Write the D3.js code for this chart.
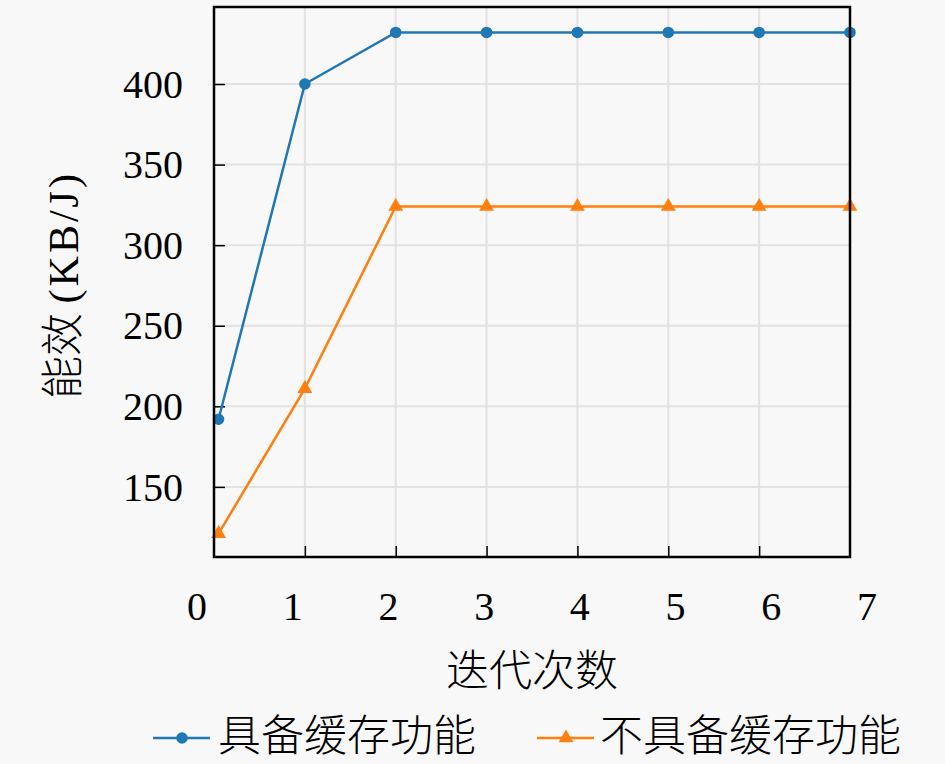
<!DOCTYPE html>
<html>
<head>
<meta charset="utf-8">
<script src="https://cdn.jsdelivr.net/npm/d3@7/dist/d3.min.js"></script>
<style>
  html, body { margin: 0; padding: 0; background: #f8f8f8; }
  svg { display: block; }
  .num { font-family: "Liberation Serif", "DejaVu Serif", serif; }
  .cjk { font-family: "Noto Sans CJK SC", sans-serif; font-weight: 300; }
</style>
</head>
<body>
<svg id="chart" width="945" height="764"></svg>
<script>
// data
var iterations = [0.05, 1, 2, 3, 4, 5, 6, 7];
var withCache = [192, 400, 432, 432, 432, 432, 432, 432];
var withoutCache = [121, 211, 324, 324, 324, 324, 324, 324];
var xTicks = [0, 1, 2, 3, 4, 5, 6, 7];
var yTicks = [150, 200, 250, 300, 350, 400];
var seriesNames = ['具备缓存功能', '不具备缓存功能'];
var colors = ['#1f77b4', '#ff7f0e'];

// layout
var plotLeft = 214, plotRight = 850, plotTop = 7, plotBottom = 557;

var svg = d3.select('#chart');

var x = d3.scaleLinear().domain([0, 7]).range([plotLeft, plotRight]);
var y = d3.scaleLinear().domain([106.5, 447.8]).range([plotBottom, plotTop]);
// tick labels sit slightly wider apart than the grid in the original
var xLabel = d3.scaleLinear().domain([0, 7]).range([x(0) - 17, x(7) + 17]);

function marker(s) {
	return d3.symbol()
		.type(s === 0 ? d3.symbolCircle : d3.symbolTriangle)
		.size(s === 0 ? 105 : 95);
}

// grid
svg.append('g').selectAll('line.gx')
	.data(xTicks.slice(1, -1))
	.enter().append('line')
	.attr('x1', function(d) { return x(d); })
	.attr('x2', function(d) { return x(d); })
	.attr('y1', plotTop)
	.attr('y2', plotBottom)
	.attr('stroke', '#e2e2e2')
	.attr('stroke-width', 2);
svg.append('g').selectAll('line.gy')
	.data(yTicks)
	.enter().append('line')
	.attr('x1', plotLeft)
	.attr('x2', plotRight)
	.attr('y1', function(d) { return y(d); })
	.attr('y2', function(d) { return y(d); })
	.attr('stroke', '#e2e2e2')
	.attr('stroke-width', 2);

// inward ticks
var xAxis = d3.axisBottom(x).tickValues(xTicks.slice(1, -1)).tickSize(-11).tickFormat('');
var yAxis = d3.axisLeft(y).tickValues(yTicks).tickSize(-11).tickFormat('');
var gx = svg.append('g').attr('transform', 'translate(0,' + plotBottom + ')').call(xAxis);
var gy = svg.append('g').attr('transform', 'translate(' + plotLeft + ',0)').call(yAxis);
[gx, gy].forEach(function(g) {
	g.select('.domain').remove();
	g.selectAll('line').attr('stroke', '#000').attr('stroke-width', 1.5);
});

// tick labels
svg.append('g').selectAll('text')
	.data(xTicks)
	.enter().append('text')
	.attr('class', 'num')
	.attr('x', function(d) { return xLabel(d); })
	.attr('y', 620)
	.attr('text-anchor', 'middle')
	.attr('font-size', 40)
	.text(function(d) { return d; });
svg.append('g').selectAll('text')
	.data(yTicks)
	.enter().append('text')
	.attr('class', 'num')
	.attr('x', 183)
	.attr('y', function(d) { return y(d); })
	.attr('dy', '0.34em')
	.attr('text-anchor', 'end')
	.attr('font-size', 40)
	.text(function(d) { return d; });

// series
var seriesData = [withCache, withoutCache];
var line = d3.line()
	.x(function(d, i) { return x(iterations[i]); })
	.y(function(d) { return y(d); });

seriesData.forEach(function(values, s) {
	svg.append('path')
		.datum(values)
		.attr('d', line)
		.attr('fill', 'none')
		.attr('stroke', colors[s])
		.attr('stroke-width', 2.5);
	svg.append('g').selectAll('path')
		.data(values)
		.enter().append('path')
		.attr('d', marker(s))
		.attr('transform', function(d, i) { return 'translate(' + x(iterations[i]) + ',' + y(d) + ')'; })
		.attr('fill', colors[s]);
});

// frame
svg.append('rect')
	.attr('x', plotLeft)
	.attr('y', plotTop)
	.attr('width', plotRight - plotLeft)
	.attr('height', plotBottom - plotTop)
	.attr('fill', 'none')
	.attr('stroke', '#000')
	.attr('stroke-width', 2.5);

// axis titles
svg.append('text')
	.attr('x', (plotLeft + plotRight) / 2)
	.attr('y', 686)
	.attr('text-anchor', 'middle')
	.attr('font-size', 43)
	.attr('class', 'cjk')
	.text('迭代次数');

var yTitle = svg.append('text')
	.attr('transform', 'translate(78,' + ((plotTop + plotBottom) / 2 + 3) + ') rotate(-90)')
	.attr('text-anchor', 'middle')
	.attr('font-size', 42);
yTitle.append('tspan').attr('class', 'cjk').attr('font-size', 43).text('能效 ');
yTitle.append('tspan').attr('class', 'num').attr('letter-spacing', 3).text('(KB/J)');

// legend
var legendItems = [
	{ lineX: 153, textX: 218 },
	{ lineX: 537, textX: 600 }
];
legendItems.forEach(function(item, s) {
	var g = svg.append('g').attr('transform', 'translate(0,738)');
	g.append('line')
		.attr('x1', item.lineX)
		.attr('x2', item.lineX + 57)
		.attr('stroke', colors[s])
		.attr('stroke-width', 2.5);
	g.append('path')
		.attr('d', marker(s))
		.attr('transform', 'translate(' + (item.lineX + 29) + ',0)')
		.attr('fill', colors[s]);
	g.append('text')
		.attr('class', 'cjk')
		.attr('x', item.textX)
		.attr('y', 13)
		.attr('font-size', 43)
		.text(seriesNames[s]);
});
</script>
</body>
</html>
